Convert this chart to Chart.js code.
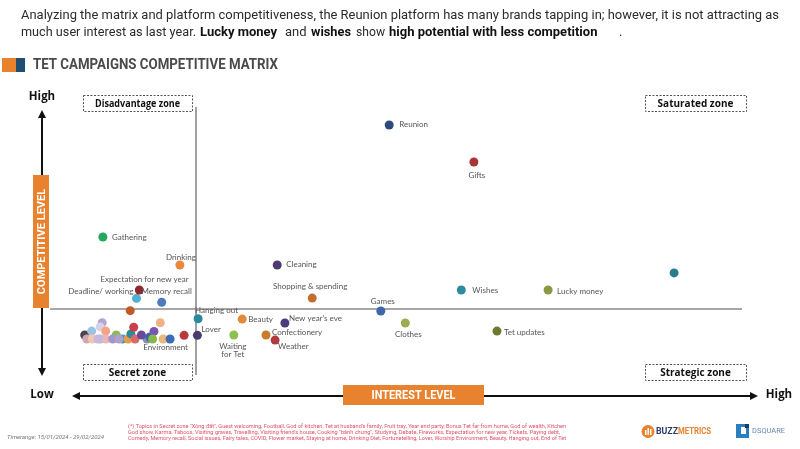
<!DOCTYPE html>
<html>
<head>
<meta charset="utf-8">
<script src="https://cdn.jsdelivr.net/npm/chart.js@4.4.1/dist/chart.umd.min.js"></script>
<style>
html,body{margin:0;padding:0;background:#fff;}
#c{display:block;}
</style>
</head>
<body>
<canvas id="c" width="800" height="449"></canvas>
<script>
// ---------------- DATA ----------------
const topics = [
  "Xông đất","Guest welcoming","Football","God of kitchen","Tet at husband's family","Fruit tray",
  "Year end party","Bonus Tet far from home","God of wealth","Kitchen God show","Karma","Taboos",
  "Visiting graves","Travelling","Visiting friend's house","Cooking bánh chưng","Studying","Debate",
  "Fireworks","Tickets","Paying debt","Comedy","Social issues","Fairy tales","COVID","Flower market",
  "Staying at home",
  "Lover","Hanging out","Expectation for new year","Deadline/ working","Memory recall","Drinking",
  "Gathering","Reunion","Gifts","Cleaning","Shopping & spending","Games","Wishes","Lucky money",
  "Fortunetelling","Clothes","Tet updates","Beauty","New year's eve","Waiting for Tet","Confectionery",
  "Weather","Environment"
];
const interest = [
  4.1, 4.4, 5.1, 6.6, 6.3, 7.1,
  5.2, 6.3, 7.1, 8.6, 8.1, 9.5,
  10.3, 10.7, 11.1, 11.3, 10.6, 13.0,
  13.4, 14.0, 14.9, 15.3, 16.3, 18.3, 6.0, 9.0,
  12.2,
  20.2, 20.3, 11.5, 11.9, 15.1, 17.7,
  6.7, 47.6, 59.7, 31.6, 36.6, 46.4, 57.9, 70.3,
  88.3, 49.9, 63.0, 26.6, 32.7, 25.4, 30.0,
  31.3, 13.8
];
const competition = [
  15.7, 14.3, 17.1, 20.1, 18.6, 17.1,
  14.3, 14.3, 14.3, 15.7, 14.3, 14.3,
  14.3, 16.1, 18.5, 14.3, 24.4, 14.3,
  15.0, 17.0, 20.1, 14.3, 14.3, 15.6, 14.3, 14.3,
  15.7,
  15.6, 21.5, 28.8, 31.8, 27.4, 40.7,
  50.7, 90.7, 77.5, 40.7, 28.9, 24.3, 31.8, 31.8,
  37.9, 20.0, 17.1, 21.4, 20.0, 15.7, 15.7,
  13.9, 14.3
];
const pointColors = [
  "#4a4550","#d4a5ad","#9cc3e0","#b4a6d2","#d8d0e4","#f2a585",
  "#f3c6b4","#b8b0d6","#ebb5bd","#8fba5a","#a696c6","#3a9fb5",
  "#eb9a45","#2a8c9c","#c8414a","#d86a6a","#c05a28","#7f92b8",
  "#3e62a8","#7a55b0","#f2b087","#eab87a","#3a6cb8","#b83a3e","#c4b8dc","#b0a0cc",
  "#6a4a9a",
  "#4a3b6e","#2a8a9c","#4fb0d2","#8e2a2e","#4e7ac0","#e8893c",
  "#23a85c","#2e4a7d","#a83434","#4b3b70","#c0702e","#3d66ad","#2d8aa0","#8b9a42",
  "#2b7b8c","#9aab52","#6b7b32","#e38a3a","#4c3c7a","#8cc152","#c97b30",
  "#b33a3a","#86b84a"
];
const interestDivider = 20;
const competitionDivider = 25;

// label placement: [dx, dy, align] relative to the point
const labelPlacement = {
  "Reunion":[10,-1,"left"], "Gifts":[3,13,"center"], "Gathering":[9,0,"left"],
  "Drinking":[1,-8,"center"], "Cleaning":[9,-1,"left"],
  "Expectation for new year":[8,-19,"center"], "Deadline/ working":[-6,1,"right"],
  "Memory recall":[5,-11,"center"], "Shopping & spending":[-2,-12,"center"],
  "Games":[2,-10,"center"], "Wishes":[11,0,"left"], "Lucky money":[9,1,"left"],
  "Clothes":[3,11,"center"], "Tet updates":[7,1,"left"], "Hanging out":[-3,-8,"left"],
  "Beauty":[6,0,"left"], "New year's eve":[4,-5,"left"], "Lover":[4,-6,"left"],
  "Waiting for Tet":[-1,11,"center"], "Confectionery":[6,-3,"left"],
  "Weather":[3,6,"left"], "Environment":[13,8,"center"]
};
const labelText = {"Waiting for Tet":["Waiting","for Tet"]};

// ---------------- DRAW ----------------
function txt(ctx, s, x, y, font, color, align, maxW) {
  ctx.save();
  ctx.font = font; ctx.fillStyle = color; ctx.textAlign = align || "left"; ctx.textBaseline = "middle";
  if (maxW) ctx.fillText(s, x, y, maxW); else ctx.fillText(s, x, y);
  ctx.restore();
}
function dashedBox(ctx, x1, y1, x2, y2, label) {
  ctx.save();
  ctx.strokeStyle = "#555"; ctx.lineWidth = 1; ctx.setLineDash([2, 1.5]);
  ctx.strokeRect(x1 + 0.5, y1 + 0.5, x2 - x1, y2 - y1);
  ctx.restore();
  txt(ctx, label, (x1 + x2) / 2, (y1 + y2) / 2 + 1, "bold 10px 'Open Sans', sans-serif", "#111", "center", x2 - x1 - 24);
}
function arrowHead(ctx, x, y, dir) {
  ctx.beginPath();
  if (dir === "up") { ctx.moveTo(x, y); ctx.lineTo(x - 4, y + 8); ctx.lineTo(x + 4, y + 8); }
  if (dir === "down") { ctx.moveTo(x, y); ctx.lineTo(x - 4, y - 8); ctx.lineTo(x + 4, y - 8); }
  if (dir === "left") { ctx.moveTo(x, y); ctx.lineTo(x + 8, y - 4); ctx.lineTo(x + 8, y + 4); }
  if (dir === "right") { ctx.moveTo(x, y); ctx.lineTo(x - 8, y - 4); ctx.lineTo(x - 8, y + 4); }
  ctx.closePath(); ctx.fill();
}

const decor = {
  id: "decor",
  beforeDatasetsDraw(chart) {
    const ctx = chart.ctx, xs = chart.scales.x, ys = chart.scales.y, a = chart.chartArea;
    const vx = xs.getPixelForValue(interestDivider), hy = ys.getPixelForValue(competitionDivider);
    ctx.save();
    ctx.strokeStyle = "#8a8a8a"; ctx.lineWidth = 1.6;
    ctx.beginPath(); ctx.moveTo(vx, a.top + 8); ctx.lineTo(vx, a.bottom - 4); ctx.stroke();
    ctx.beginPath(); ctx.moveTo(a.left - 6, hy); ctx.lineTo(a.right - 14, hy); ctx.stroke();
    ctx.restore();
  },
  afterDatasetsDraw(chart) {
    const ctx = chart.ctx, meta = chart.getDatasetMeta(0);
    topics.forEach((t, i) => {
      const p = labelPlacement[t]; if (!p) return;
      const el = meta.data[i];
      const lines = labelText[t] || [t];
      lines.forEach((ln, k) => {
        txt(ctx, ln, el.x + p[0], el.y + p[1] + k * 8, "8px Lato, sans-serif", "#555", p[2]);
      });
    });
  },
  afterDraw(chart) {
    const ctx = chart.ctx;
    // header
    txt(ctx, "Analyzing the matrix and platform competitiveness, the Reunion platform has many brands tapping in; however, it is not attracting as",
        21, 16, "13px Roboto, sans-serif", "#2b2b2b", "left", 758);
    const l2 = [
      ["much user interest as last year.", 21, 175, false],
      ["Lucky money", 200, 78, true], ["and", 285, 23, false], ["wishes", 311, 40, true],
      ["show", 356, 29, false], ["high potential with less competition", 389, 217, true], [".", 619, 4, false]
    ];
    l2.forEach(s => txt(ctx, s[0], s[1], 33, (s[3] ? "bold " : "") + "13px Roboto, sans-serif", s[3] ? "#111" : "#2b2b2b", "left", s[2]));
    // title
    ctx.fillStyle = "#e8822e"; ctx.fillRect(2, 58, 14, 14);
    ctx.fillStyle = "#1f4e6e"; ctx.fillRect(16, 58, 9, 14);
    txt(ctx, "TET CAMPAIGNS COMPETITIVE MATRIX", 33, 65.5, "bold 14px Roboto, sans-serif", "#4a4a4a", "left", 245);

    // zone boxes
    dashedBox(ctx, 83, 95, 192, 111, "Disadvantage zone");
    dashedBox(ctx, 645, 95, 746, 111, "Saturated zone");
    dashedBox(ctx, 83, 364, 192, 380, "Secret zone");
    dashedBox(ctx, 645, 364, 746, 380, "Strategic zone");

    // axis arrows
    ctx.save();
    ctx.strokeStyle = "#111"; ctx.fillStyle = "#111"; ctx.lineWidth = 2;
    ctx.beginPath(); ctx.moveTo(42, 115); ctx.lineTo(42, 370); ctx.stroke();
    arrowHead(ctx, 42, 110, "up"); arrowHead(ctx, 42, 376, "down");
    ctx.beginPath(); ctx.moveTo(78, 396); ctx.lineTo(752, 396); ctx.stroke();
    arrowHead(ctx, 72, 396, "left"); arrowHead(ctx, 758, 396, "right");
    ctx.restore();
    ctx.fillStyle = "#e8822e"; ctx.fillRect(33, 175, 16, 133);
    ctx.save(); ctx.translate(41.5, 241.5); ctx.rotate(-Math.PI / 2);
    txt(ctx, "COMPETITIVE LEVEL", 0, 0.5, "bold 11px Roboto, sans-serif", "#fff", "center", 127);
    ctx.restore();
    ctx.fillStyle = "#e8822e"; ctx.fillRect(343, 385, 141, 20);
    txt(ctx, "INTEREST LEVEL", 413.5, 395.5, "bold 12px Roboto, sans-serif", "#fff", "center", 84);
    txt(ctx, "High", 42, 96.5, "bold 11.5px 'Open Sans', sans-serif", "#111", "center");
    txt(ctx, "Low", 42, 394.5, "bold 11.5px 'Open Sans', sans-serif", "#111", "center");
    txt(ctx, "High", 779, 394.5, "bold 11.5px 'Open Sans', sans-serif", "#111", "center");

    // footer
    txt(ctx, "Timerange: 15/01/2024 - 29/02/2024", 7, 437, "italic 6px Roboto, sans-serif", "#777", "left", 101);
    const fn = [
      "(*) Topics in Secret zone \"Xông đất\", Guest welcoming, Football, God of kitchen, Tet at husband's family, Fruit tray, Year end party, Bonus Tet far from home, God of wealth, Kitchen",
      "God show, Karma, Taboos, Visiting graves, Travelling, Visiting friend's house, Cooking \"bánh chưng\", Studying, Debate, Fireworks, Expectation for new year, Tickets, Paying debt,",
      "Comedy, Memory recall, Social issues, Fairy tales, COVID, Flower market, Staying at home, Drinking Diet, Fortunetelling, Lover, Worship Environment, Beauty, Hanging out, End of Tet"
    ];
    fn.forEach((s, k) => txt(ctx, s, 128, 427 + k * 6, "5.6px Roboto, sans-serif", "#e0506a", "left", 438));

    // BUZZMETRICS logo
    ctx.save();
    ctx.fillStyle = "#e8822e"; ctx.beginPath(); ctx.arc(648, 431.5, 6.5, 0, Math.PI * 2); ctx.fill();
    ctx.fillStyle = "#fff"; ctx.fillRect(645, 430, 1.5, 5); ctx.fillRect(647.5, 428, 1.5, 7); ctx.fillRect(650, 429, 1.5, 6);
    ctx.restore();
    txt(ctx, "BUZZ", 656, 432, "bold 9px Roboto, sans-serif", "#2a3a6a", "left", 22);
    txt(ctx, "METRICS", 678, 432, "bold 9px Roboto, sans-serif", "#e8822e", "left", 33);
    // DSQUARE logo
    ctx.save();
    ctx.fillStyle = "#2a7fc0"; ctx.fillRect(736, 424, 13, 14);
    ctx.fillStyle = "#fff"; ctx.fillRect(741, 427, 5, 7);
    ctx.fillStyle = "#1b3d6a"; ctx.fillRect(745, 424, 4, 4);
    ctx.restore();
    txt(ctx, "DSQUARE", 752, 431.5, "7.5px Roboto, sans-serif", "#6a88b0", "left", 39);
  }
};

new Chart(document.getElementById("c"), {
  type: "scatter",
  data: {
    datasets: [{
      data: topics.map((t, i) => ({ x: interest[i], y: competition[i] })),
      backgroundColor: pointColors,
      borderWidth: 0,
      pointRadius: 4.5,
      pointHoverRadius: 4.5
    }]
  },
  options: {
    responsive: false,
    animation: false,
    devicePixelRatio: 1,
    layout: { padding: { left: 56, right: 44, top: 99, bottom: 70 } },
    plugins: { legend: { display: false }, tooltip: { enabled: false } },
    scales: {
      x: { type: "linear", min: 0, max: 100, display: false },
      y: { type: "linear", min: 0, max: 100, display: false }
    }
  },
  plugins: [decor]
});
</script>
</body>
</html>
